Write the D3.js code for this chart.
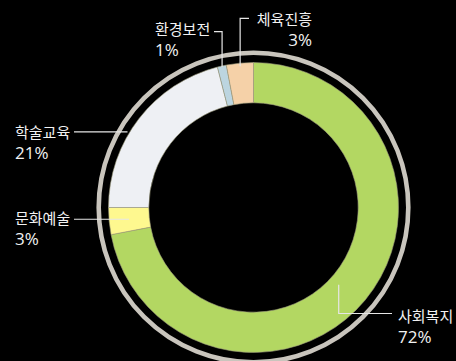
<!DOCTYPE html>
<html>
<head>
<meta charset="utf-8">
<script src="https://cdn.jsdelivr.net/npm/d3@7"></script>
<style>
  html, body { margin: 0; padding: 0; background: #000; }
  svg { display: block; }
  text { fill: #f2f2f2; }
  .name { font-family: "Noto Sans CJK KR", "Noto Sans", sans-serif; font-size: 15px; }
  .pct { font-family: "Open Sans", "Noto Sans", sans-serif; font-size: 17px; font-weight: 400; }
</style>
</head>
<body>
<svg id="chart" width="456" height="361"></svg>
<script>
// Share of spending by field (%), clockwise from 12 o'clock
const categories = ["사회복지", "문화예술", "학술교육", "환경보전", "체육진흥"];
const values = [72, 3, 21, 1, 3];
const colors = ["#b3d762", "#fef88f", "#eef0f4", "#bcd5e0", "#f5d1a8"];

// Label placement: text position, leader-line start, and where inside the slice it points
const labelLayout = {
  "사회복지": { x: 398, y: 322, anchor: "start", lx: 392, ly: 313.5, t: 0.51, r: 115 },
  "문화예술": { x: 15,  y: 224, anchor: "start", lx: 74,  ly: null,  t: 0.5,  r: 125 },
  "학술교육": { x: 15,  y: 137.5, anchor: "start", lx: 74, ly: null, t: 0.41, r: 147 },
  "환경보전": { x: 155, y: 35,  anchor: "start", lx: 214, ly: 31.7,  t: 0.5,  r: 144 },
  "체육진흥": { x: 312, y: 25,  anchor: "end",   lx: 249, ly: 18.3,  t: 0.5,  r: 142 }
};

const svg = d3.select("#chart");
const cx = 253.5, cy = 207.5;
const outerR = 145, innerR = 104.7;

const g = svg.append("g").attr("transform", `translate(${cx},${cy})`);

// Frame ring around the donut
g.append("circle")
  .attr("r", 154.8)
  .attr("fill", "none")
  .attr("stroke", "#c9c5bd")
  .attr("stroke-width", 4.6);

const pie = d3.pie().sort(null).value(d => d.value);
const arc = d3.arc().innerRadius(innerR).outerRadius(outerR);
const data = pie(categories.map((c, i) => ({ name: c, value: values[i], color: colors[i] })));

g.selectAll("path.slice")
  .data(data)
  .join("path")
  .attr("class", "slice")
  .attr("d", arc)
  .attr("fill", d => d.data.color)
  .attr("stroke", "#9c9a7c")
  .attr("stroke-width", 0.6);

// Leader lines and labels
const labels = svg.append("g");
data.forEach(d => {
  const L = labelLayout[d.data.name];
  const a = d.startAngle + (d.endAngle - d.startAngle) * L.t;
  const ex = cx + Math.sin(a) * L.r;
  const ey = cy - Math.cos(a) * L.r;
  const ly = L.ly == null ? ey : L.ly;
  const pts = [[L.lx, ly], [ex, ly], [ex, ey]];
  labels.append("path")
    .attr("d", d3.line()(pts))
    .attr("fill", "none")
    .attr("stroke", "#e6e6e6")
    .attr("stroke-width", 1.2);
  labels.append("text")
    .attr("class", "name")
    .attr("text-anchor", L.anchor)
    .attr("x", L.x).attr("y", L.y)
    .text(d.data.name);
  labels.append("text")
    .attr("class", "pct")
    .attr("text-anchor", L.anchor)
    .attr("x", L.x).attr("y", L.y + 21)
    .text(d3.format("d")(d.data.value) + "%");
});
</script>
</body>
</html>
